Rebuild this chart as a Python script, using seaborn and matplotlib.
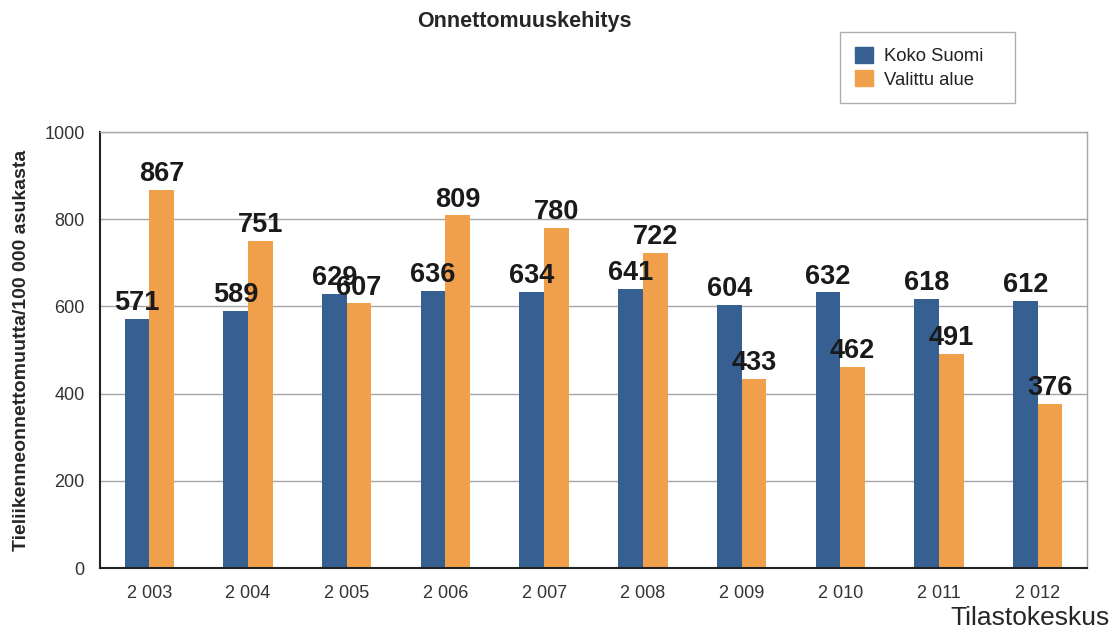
import matplotlib
matplotlib.use("Agg")
import matplotlib.pyplot as plt
import pandas as pd
import seaborn as sns

years = ["2 003", "2 004", "2 005", "2 006", "2 007", "2 008", "2 009", "2 010", "2 011", "2 012"]
koko_suomi = [571, 589, 629, 636, 634, 641, 604, 632, 618, 612]
valittu_alue = [867, 751, 607, 809, 780, 722, 433, 462, 491, 376]
series_names = ["Koko Suomi", "Valittu alue"]
colors = ["#366092", "#F0A04B"]

sns.set_style("white")
plt.rcParams["font.family"] = ["Liberation Sans", "DejaVu Sans"]

df = pd.DataFrame({
    "vuosi": years * 2,
    "arvo": koko_suomi + valittu_alue,
    "sarja": [series_names[0]] * len(years) + [series_names[1]] * len(years),
})

fig = plt.figure(figsize=(11.12, 6.28), dpi=100)
ax = fig.add_axes([0.0899, 0.0955, 0.8876, 0.6943])

sns.barplot(data=df, x="vuosi", y="arvo", hue="sarja", palette=colors,
            width=0.5, saturation=1, ax=ax, zorder=2, legend=False,
            linewidth=0, edgecolor="none")

for cont in ax.containers:
    ax.bar_label(cont, padding=2, fontsize=19.5, fontweight="bold", color="#1a1a1a")

ax.set_ylim(0, 1000)
ax.set_xlim(-0.5, 9.5)
ax.set_yticks([0, 200, 400, 600, 800, 1000])
ax.yaxis.grid(True, color="#a6a6a6", linewidth=1, zorder=0)
ax.set_axisbelow(True)
ax.tick_params(axis="y", length=0, labelsize=13, labelcolor="#333333", pad=11)
ax.tick_params(axis="x", length=0, labelsize=13, labelcolor="#333333", pad=12)
ax.set_xlabel("")
ax.set_ylabel("Tieliikenneonnettomuutta/100 000 asukasta", fontsize=14,
              fontweight="bold", labelpad=10)

for side in ["left", "bottom"]:
    ax.spines[side].set_color("#222222")
    ax.spines[side].set_linewidth(1.5)
for side in ["top", "right"]:
    ax.spines[side].set_color("#a6a6a6")
    ax.spines[side].set_linewidth(1)

fig.text(0.472, 0.966, "Onnettomuuskehitys", ha="center", va="center",
         fontsize=15.5, fontweight="bold")
fig.text(0.998, 0.005, "Tilastokeskus", ha="right", va="baseline", fontsize=19)

handles = [plt.Rectangle((0, 0), 1, 1, color=c) for c in colors]
leg = fig.legend(handles, series_names, loc="upper left",
                 bbox_to_anchor=(0.7554, 0.8392, 0.1574, 0.1099), mode="expand",
                 fontsize=13.3, frameon=True, fancybox=False,
                 edgecolor="#999999", handlelength=1.0, handleheight=1.0,
                 borderpad=0.8, labelspacing=0.25, handletextpad=0.6,
                 borderaxespad=0)
leg.get_frame().set_linewidth(1)
for t in leg.get_texts():
    t.set_color("#222222")

fig.savefig("out.png", dpi=100)
